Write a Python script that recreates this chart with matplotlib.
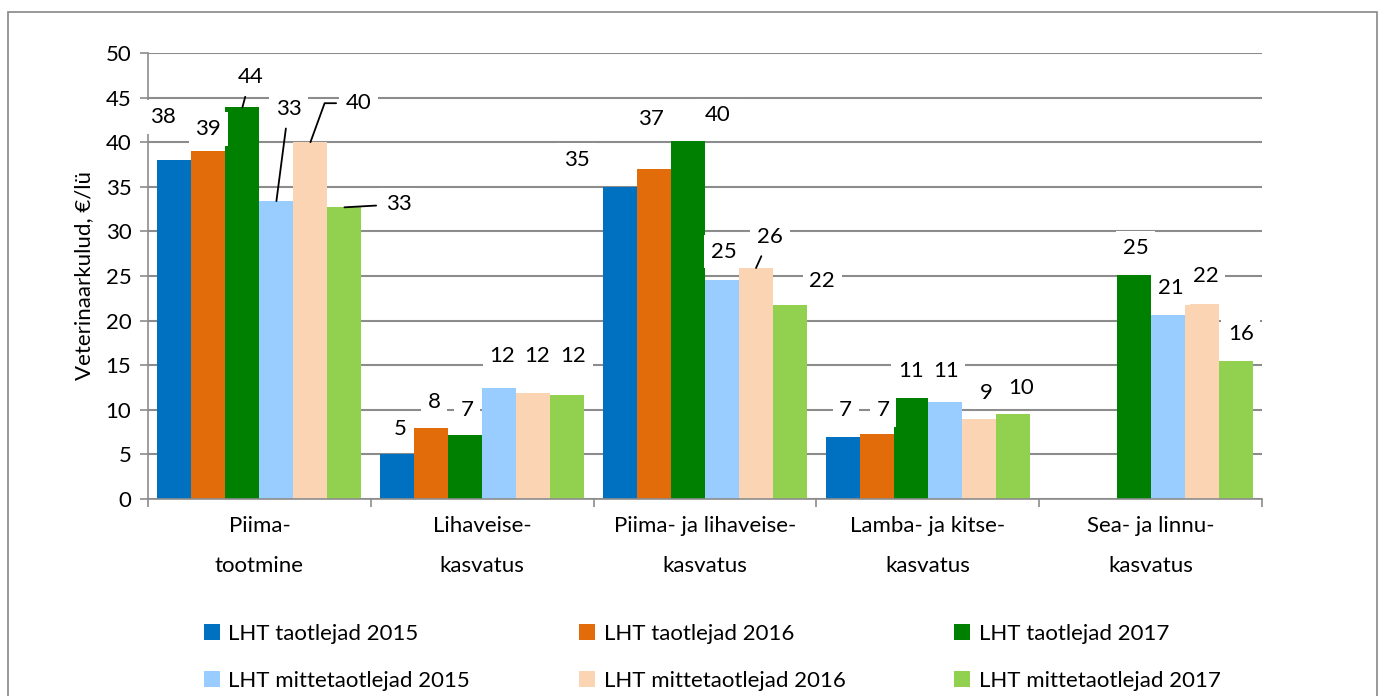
import numpy as np
import matplotlib.pyplot as plt
from matplotlib.patches import Rectangle

plt.rcParams['font.family'] = ['Lato', 'DejaVu Sans']

categories = ['Piima-\ntootmine', 'Lihaveise-\nkasvatus', 'Piima- ja lihaveise-\nkasvatus',
              'Lamba- ja kitse-\nkasvatus', 'Sea- ja linnu-\nkasvatus']
series_names = ['LHT taotlejad 2015', 'LHT taotlejad 2016', 'LHT taotlejad 2017',
                'LHT mittetaotlejad 2015', 'LHT mittetaotlejad 2016', 'LHT mittetaotlejad 2017']
taotlejad_2015 = [38.0, 5.0, 35.0, 7.0, np.nan]
taotlejad_2016 = [39.0, 8.0, 37.0, 7.3, np.nan]
taotlejad_2017 = [43.9, 7.2, 40.1, 11.3, 25.1]
mittetaotlejad_2015 = [33.4, 12.4, 24.6, 10.9, 20.6]
mittetaotlejad_2016 = [40.0, 11.9, 25.9, 9.0, 21.9]
mittetaotlejad_2017 = [32.7, 11.7, 21.7, 9.5, 15.5]
values = [taotlejad_2015, taotlejad_2016, taotlejad_2017,
          mittetaotlejad_2015, mittetaotlejad_2016, mittetaotlejad_2017]
colors = ['#0070C0', '#E36C0A', '#008000', '#99CCFF', '#FBD4B4', '#92D050']

# label offsets in pixels from bar top (dx, dy, leader line)
label_offsets = [
    [(-11, 43, 0), (0, 22, 0), (8, 30, 1), (12, 92, 1), (48, 39, 2), (54, 3, 1)],
    [(3, 25, 0), (3, 26, 0), (2, 25, 0), (3, 32, 0), (4, 37, 0), (6, 39, 0)],
    [(-43, 27, 0), (-3, 50, 0), (30, 26, 0), (2, 28, 0), (14, 31, 1), (32, 24, 0)],
    [(3, 27, 0), (6, 24, 0), (0, 27, 0), (1, 31, 0), (7, 26, 0), (8, 26, 0)],
    [(0, 0, 0), (0, 0, 0), (2, 27, 0), (3, 27, 0), (4, 28, 0), (5, 27, 0)],
]

fs = 16
fig = plt.figure(figsize=(13.81, 6.96), dpi=100)
fig.patches.append(Rectangle((8 / 1381, -0.01), 1369 / 1381, 1 - 12 / 696 + 0.01,
                             transform=fig.transFigure, fill=False, edgecolor='#888888', lw=1.2))
ax = fig.add_axes([148 / 1381, 1 - 499 / 696, 1114 / 1381, 446 / 696])

n = len(categories)
w = 0.1527
x = np.arange(n)
for j, (name, vals, c) in enumerate(zip(series_names, values, colors)):
    xs = x + (j - 2.5) * w
    ax.bar(xs, vals, width=w, color=c, label=name, zorder=2)
    for i in range(n):
        v = vals[i]
        if np.isnan(v):
            continue
        dx, dy, lead = label_offsets[i][j]
        kw = {}
        if lead == 1:
            kw['arrowprops'] = dict(arrowstyle='-', color='black', lw=1.3, shrinkA=2, shrinkB=0)
        elif lead == 2:
            kw['arrowprops'] = dict(arrowstyle='-', color='black', lw=1.3, shrinkA=2, shrinkB=0,
                                    connectionstyle='angle,angleA=0,angleB=70,rad=0')
        ax.annotate(f'{round(v):d}', (xs[i], v), xytext=(dx, dy), textcoords='offset pixels',
                    ha='center', va='center', fontsize=fs, zorder=4,
                    bbox=dict(boxstyle='square,pad=0.3', fc='white', ec='none'), **kw)

ax.set_xlim(-0.5, n - 0.5)
ax.set_ylim(0, 50)
ax.set_yticks(np.arange(0, 51, 5))
ax.yaxis.grid(True, color='#8c8c8c', lw=1.5, zorder=0)
ax.set_axisbelow(True)
ax.set_xticks(np.arange(-0.5, n, 1))
ax.set_xticklabels([])
ax.tick_params(axis='x', length=6, color='#8c8c8c', width=1.2)
ax.tick_params(axis='y', length=6, color='#8c8c8c', width=1.2, labelsize=fs, pad=6)
for i, cat in enumerate(categories):
    ax.text(i, -1.95, cat, ha='center', va='top', fontsize=fs, linespacing=2.2)
for s in ['top', 'right']:
    ax.spines[s].set_visible(False)
for s in ['left', 'bottom']:
    ax.spines[s].set_color('#8c8c8c')
    ax.spines[s].set_linewidth(1.2)
ax.set_ylabel('Veterinaarkulud, €/lü', fontsize=fs, labelpad=8)

handles, labels = ax.get_legend_handles_labels()
order = [0, 3, 1, 4, 2, 5]
fig.legend([handles[k] for k in order], [labels[k] for k in order], ncol=3,
           loc='lower left', bbox_to_anchor=(184 / 1381, -0.021), frameon=False, fontsize=fs,
           handlelength=0.7, handleheight=0.7, handletextpad=0.4, columnspacing=4.9,
           labelspacing=1.2)

fig.savefig('out.png', dpi=100)
